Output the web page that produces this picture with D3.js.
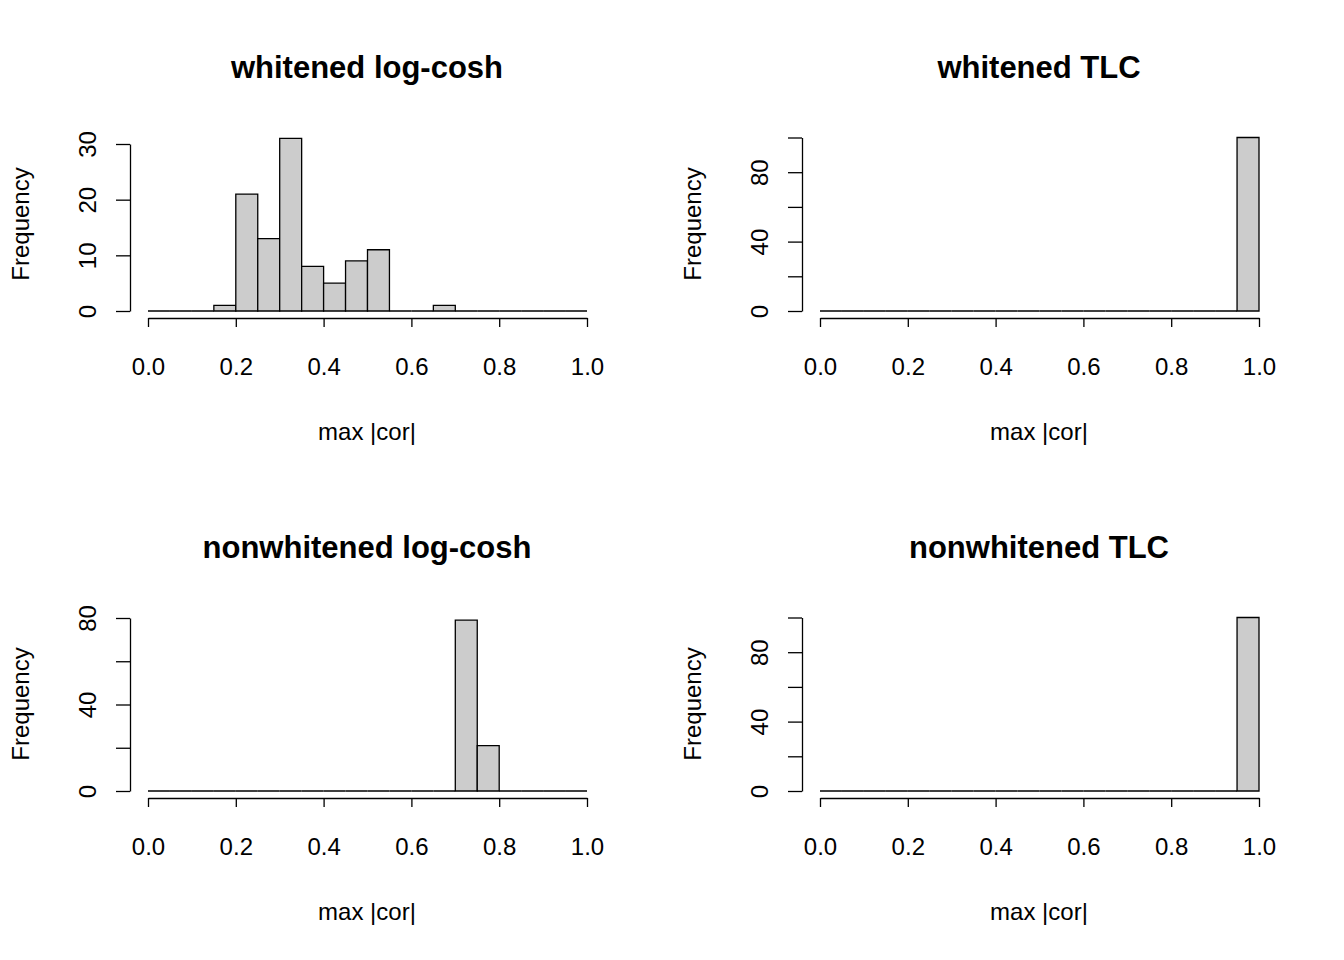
<!DOCTYPE html>
<html>
<head>
<meta charset="utf-8">
<script src="https://cdn.jsdelivr.net/npm/d3@7"></script>
<style>
  body { margin: 0; background: #fff; }
  text { font-family: "Liberation Sans", Arial, sans-serif; fill: #000; }
</style>
</head>
<body>
<div id="chart"></div>
<script>
// bin edges shared by all panels (width 0.05)
const binEdges = d3.range(0, 21).map(i => i / 20);

// counts per bin, 20 bins each
const wLogcosh  = [0,0,0,1,21,13,31,8,5,9,11,0,0,1,0,0,0,0,0,0];
const wTLC      = [0,0,0,0,0,0,0,0,0,0,0,0,0,0,0,0,0,0,0,100];
const nwLogcosh = [0,0,0,0,0,0,0,0,0,0,0,0,0,0,79,21,0,0,0,0];
const nwTLC     = [0,0,0,0,0,0,0,0,0,0,0,0,0,0,0,0,0,0,0,100];

const xTicks = [0, 0.2, 0.4, 0.6, 0.8, 1.0];

const panels = [
  { title: "whitened log-cosh",    counts: wLogcosh,  yMax: 30,  yTicks: [0,10,20,30],        yLabels: [0,10,20,30], ox: 0,   oy: 0 },
  { title: "whitened TLC",         counts: wTLC,      yMax: 100, yTicks: [0,20,40,60,80,100], yLabels: [0,40,80],    ox: 672, oy: 0 },
  { title: "nonwhitened log-cosh", counts: nwLogcosh, yMax: 80,  yTicks: [0,20,40,60,80],     yLabels: [0,40,80],    ox: 0,   oy: 480 },
  { title: "nonwhitened TLC",      counts: nwTLC,     yMax: 100, yTicks: [0,20,40,60,80,100], yLabels: [0,40,80],    ox: 672, oy: 480 }
];

const svg = d3.select("#chart").append("svg").attr("width", 1344).attr("height", 960);

panels.forEach(p => {
  const g = svg.append("g").attr("transform", `translate(${p.ox},${p.oy})`);
  const x = d3.scaleLinear().domain([0, 1]).range([148, 587]);
  const y = d3.scaleLinear().domain([0, 100]).range([311, 137.5]);
  if (p.yMax === 30) y.domain([0, 30]).range([311, 144]);
  if (p.yMax === 80) y.domain([0, 80]).range([311, 138]);

  // bars (as paths so zero-count bins still show as a flat line)
  g.selectAll("path.bar").data(p.counts).join("path").attr("class", "bar")
    .attr("d", (d, i) => {
      const x0 = x(binEdges[i]), x1 = x(binEdges[i + 1]), y0 = y(0), y1 = y(d);
      return `M${x0},${y0}V${y1}H${x1}V${y0}Z`;
    })
    .attr("fill", "#cccccc").attr("stroke", "#000").attr("stroke-width", 1.3);

  // x axis
  const xa = g.append("g").attr("transform", "translate(0,318)")
    .call(d3.axisBottom(x).tickValues(xTicks).tickFormat(d3.format(".1f")).tickSize(9).tickSizeOuter(0));
  xa.select(".domain").attr("stroke-width", 1.3);
  xa.selectAll(".tick line").attr("stroke-width", 1.3);
  xa.selectAll("text").attr("font-size", 24).attr("y", 0).attr("dy", 0)
    .attr("transform", "translate(0,57)");

  // y axis
  const ya = g.append("g").attr("transform", "translate(130,0)")
    .call(d3.axisLeft(y).tickValues(p.yTicks)
      .tickFormat(d => p.yLabels.includes(d) ? d : "").tickSize(14).tickSizeOuter(0));
  ya.select(".domain").attr("stroke-width", 1.3);
  ya.selectAll(".tick line").attr("stroke-width", 1.3);
  ya.selectAll(".tick text").attr("font-size", 24)
    .attr("text-anchor", "middle").attr("x", 0).attr("dy", 0)
    .attr("transform", "translate(-34,0) rotate(-90)");

  g.append("text").attr("x", 367).attr("y", 78).attr("text-anchor", "middle")
    .attr("font-size", 31).attr("font-weight", "bold").text(p.title);
  g.append("text").attr("x", 367).attr("y", 440).attr("text-anchor", "middle")
    .attr("font-size", 24).text("max |cor|");
  g.append("text").attr("transform", "translate(29,224) rotate(-90)").attr("text-anchor", "middle")
    .attr("font-size", 24).text("Frequency");
});
</script>
</body>
</html>
